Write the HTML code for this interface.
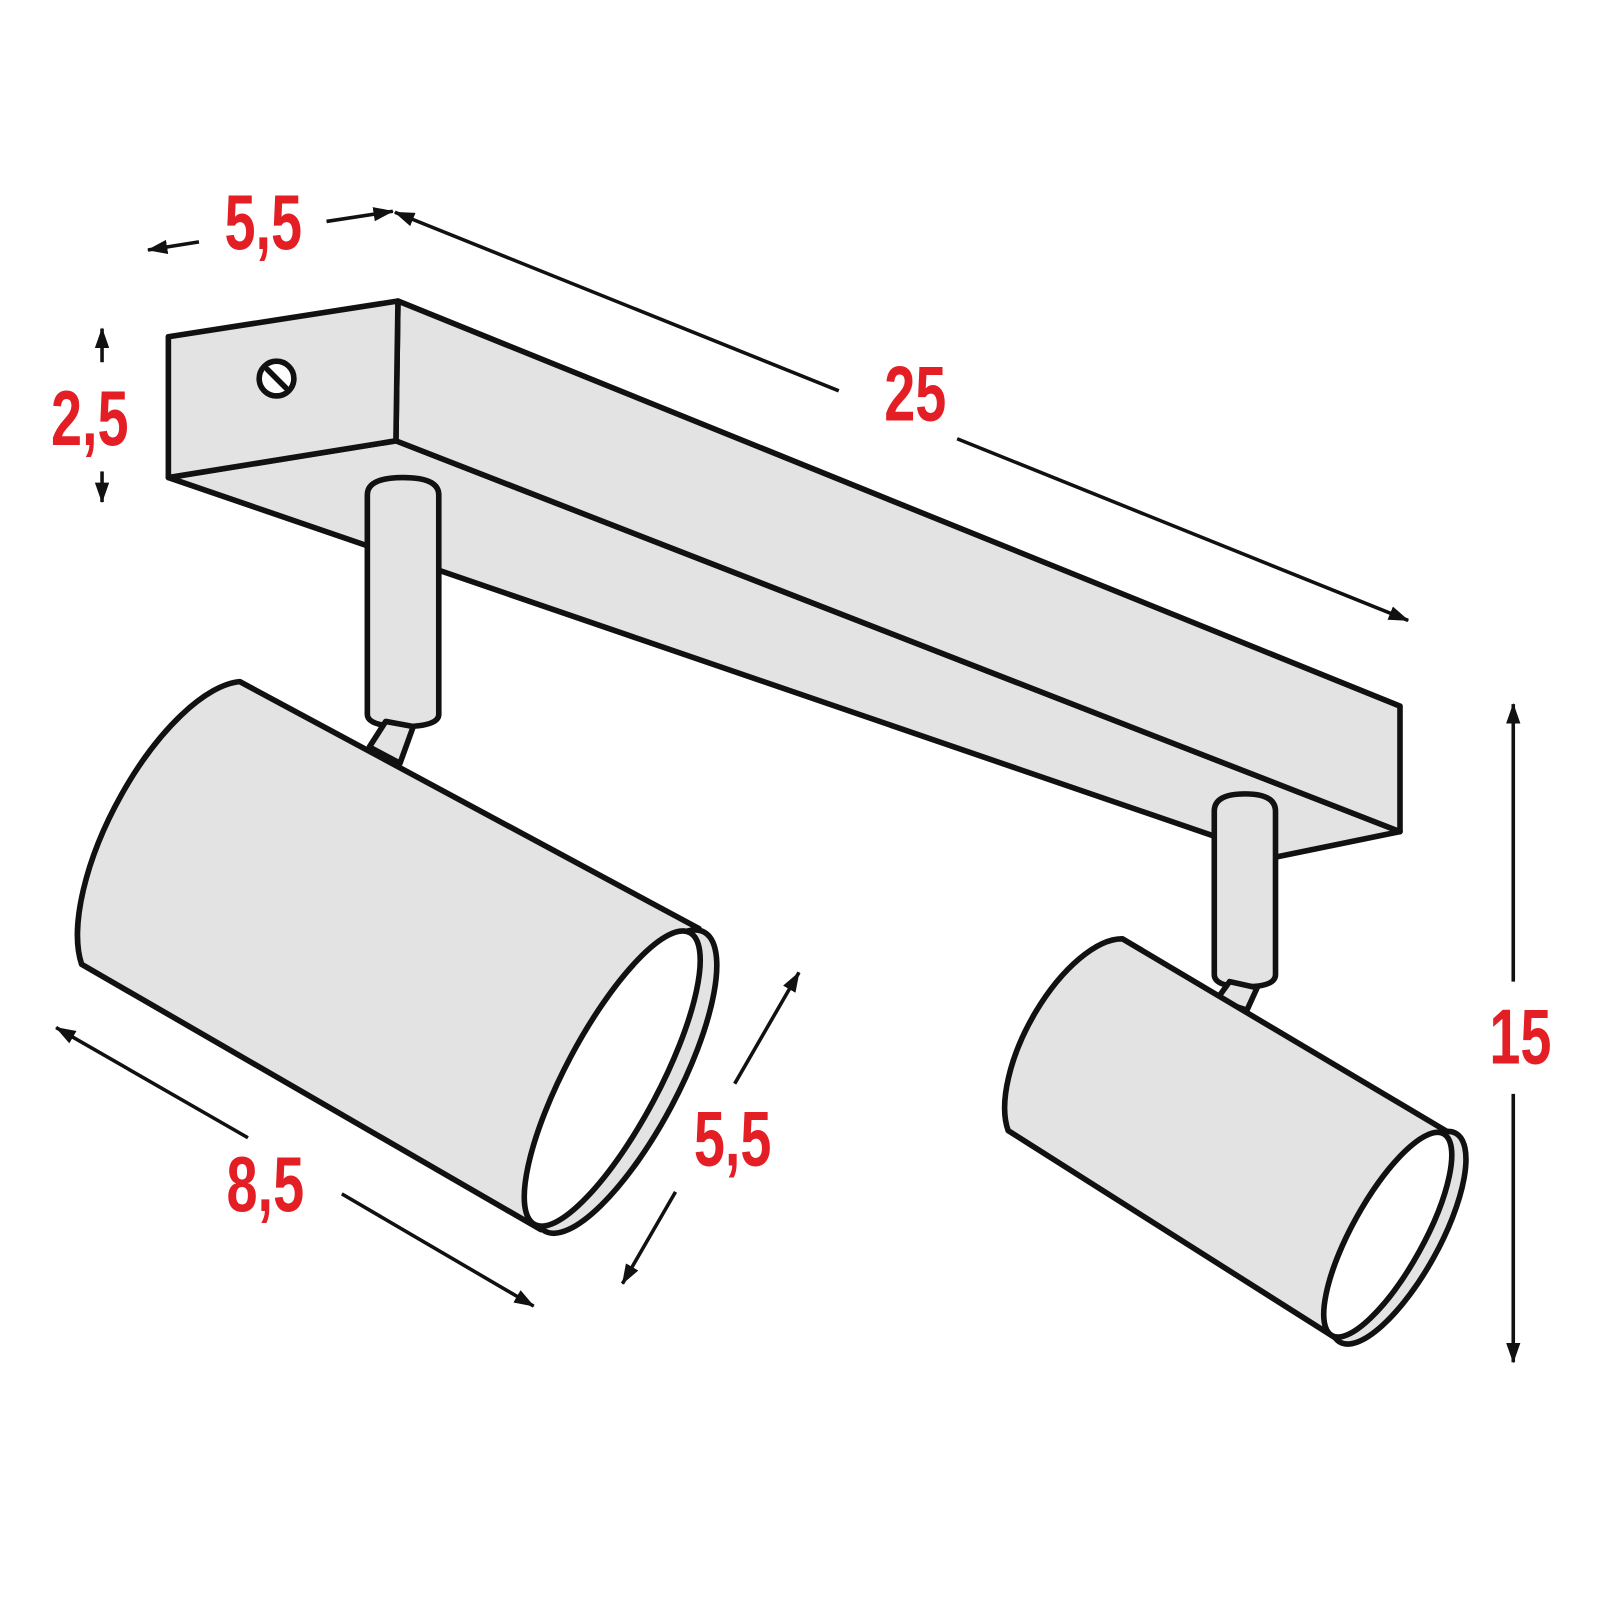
<!DOCTYPE html>
<html><head><meta charset="utf-8"><style>
html,body{margin:0;padding:0;background:#fff}
svg{display:block}
text{font-family:"Liberation Sans",sans-serif;font-weight:bold;fill:#e31e24;text-anchor:middle}
</style></head><body>
<svg width="1600" height="1600" viewBox="0 0 1568 1568" xmlns="http://www.w3.org/2000/svg">
<defs>
<marker id="a" viewBox="0 0 20 14" refX="19" refY="7" markerWidth="20" markerHeight="14" orient="auto" markerUnits="userSpaceOnUse">
<path d="M0,0 L20,7 L0,14 Z" fill="#111"/>
</marker>
</defs>
<g stroke="#111" stroke-width="5.5" stroke-linejoin="round" stroke-linecap="round" fill="#e3e3e3">
<polygon points="165,468 388,432 1372,815 1250,840"/>
<polygon points="390,295 1372,692 1372,815 388,432"/>
<polygon points="165,330 390,295 388,432 165,468"/>
<circle cx="271" cy="371" r="17" fill="#fff"/>
<line x1="262" y1="362" x2="280" y2="380"/>
<path d="M360,485 Q360,468 395,468 Q430,468 430,485 L430,700 Q430,712 395,712 Q360,712 360,700 Z"/>
<path d="M362,732 L378,707 L405,712 L392,748 Z"/>
<path d="M235,668 L685,910 L530,1205 L80,945 A167,68 -62 0 1 235,668 Z"/>
<ellipse cx="612" cy="1060" rx="166" ry="52" transform="rotate(-62 612 1060)"/>
<ellipse cx="600" cy="1057" rx="162" ry="46" transform="rotate(-62 600 1057)" fill="#fff"/>
<path d="M1190,795 Q1190,778 1220,778 Q1250,778 1250,795 L1250,955 Q1250,967 1220,967 Q1190,967 1190,955 Z"/>
<path d="M1192,980 L1205,962 L1232,968 L1222,990 Z"/>
<path d="M1100,920 L1420,1110 L1310,1312 L988,1108 A115,52 -61 0 1 1100,920 Z"/>
<ellipse cx="1370" cy="1213" rx="117" ry="40" transform="rotate(-61 1370 1213)"/>
<ellipse cx="1360" cy="1210" rx="113" ry="35" transform="rotate(-61 1360 1210)" fill="#fff"/>
</g>
<g stroke="#111" stroke-width="3.5" fill="none">
<line x1="195" y1="237" x2="145" y2="245" marker-end="url(#a)"/>
<line x1="320" y1="217" x2="385" y2="207" marker-end="url(#a)"/>
<line x1="822" y1="383" x2="387" y2="208" marker-end="url(#a)"/>
<line x1="938" y1="430" x2="1380" y2="608" marker-end="url(#a)"/>
<line x1="100" y1="355" x2="100" y2="322" marker-end="url(#a)"/>
<line x1="100" y1="462" x2="100" y2="492" marker-end="url(#a)"/>
<line x1="1483" y1="962" x2="1483" y2="690" marker-end="url(#a)"/>
<line x1="1483" y1="1072" x2="1483" y2="1335" marker-end="url(#a)"/>
<line x1="243" y1="1115" x2="55" y2="1007" marker-end="url(#a)"/>
<line x1="335" y1="1170" x2="523" y2="1280" marker-end="url(#a)"/>
<line x1="720" y1="1062" x2="783" y2="953" marker-end="url(#a)"/>
<line x1="662" y1="1168" x2="610" y2="1258" marker-end="url(#a)"/>
</g>
<g font-size="76">
<text transform="translate(258,244) scale(0.72,1)">5,5</text>
<text transform="translate(897,412) scale(0.72,1)">25</text>
<text transform="translate(88,436) scale(0.72,1)">2,5</text>
<text transform="translate(1490,1042) scale(0.72,1)">15</text>
<text transform="translate(260,1187) scale(0.72,1)">8,5</text>
<text transform="translate(718,1142) scale(0.72,1)">5,5</text>
</g>
</svg>
</body></html>
